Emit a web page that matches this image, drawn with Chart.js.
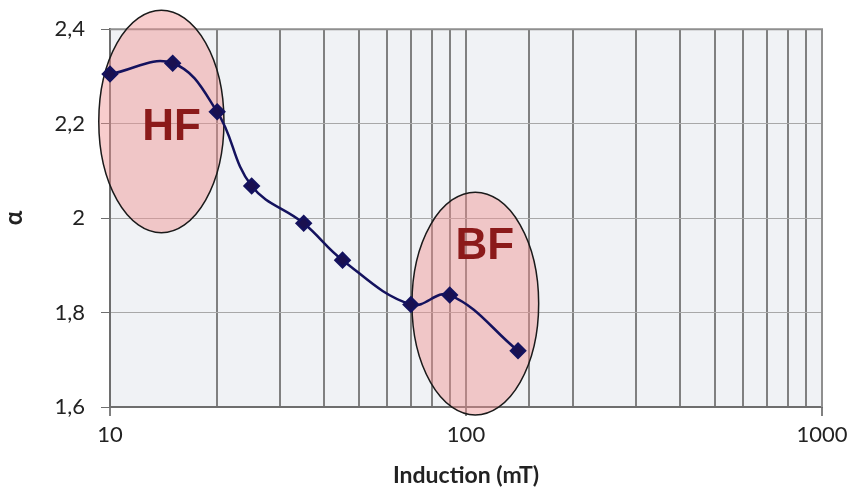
<!DOCTYPE html>
<html lang="fr">
<head>
    <meta charset="UTF-8">
    <title>Alpha vs Induction</title>
    <script src="https://cdn.jsdelivr.net/npm/chart.js"></script>
    <style>
        html, body { margin: 0; padding: 0; background: #fff; }
        #wrap { width: 855px; height: 493px; }
    </style>
</head>
<body>
    <div id="wrap"><canvas id="myChart"></canvas></div>
    <script>
        // data
        const induction = [10, 15, 20, 25, 35, 45, 70, 90, 140];
        const alpha = [2.305, 2.328, 2.225, 2.068, 1.989, 1.911, 1.817, 1.837, 1.719];
        const xLabels = [10, 100, 1000];

        // highlighted zones (in data units): x from/to, y from/to, label position
        const zones = [
            { name: 'HF', x0: 9.3, x1: 20.9, y0: 1.969, y1: 2.44, tx: 14.9, ty: 2.192 },
            { name: 'BF', x0: 70.5, x1: 160, y0: 1.583, y1: 2.055, tx: 113, ty: 1.94 }
        ];

        const zonePlugin = {
            id: 'zones',
            beforeDraw(chart) {
                const { ctx, chartArea: a } = chart;
                ctx.save();
                ctx.fillStyle = '#f0f2f5';
                ctx.fillRect(a.left, a.top, a.right - a.left, a.bottom - a.top);
                ctx.restore();
            },
            beforeDatasetsDraw(chart) {
                const { ctx, scales: { x, y }, chartArea: a } = chart;
                ctx.save();
                // top and right frame
                ctx.strokeStyle = '#8f8f8f';
                ctx.lineWidth = 2;
                ctx.beginPath();
                ctx.moveTo(a.left, a.top);
                ctx.lineTo(a.right, a.top);
                ctx.lineTo(a.right, a.bottom);
                ctx.stroke();
                zones.forEach(z => {
                    const l = x.getPixelForValue(z.x0), r = x.getPixelForValue(z.x1);
                    const t = y.getPixelForValue(z.y1), b = y.getPixelForValue(z.y0);
                    ctx.beginPath();
                    ctx.ellipse((l + r) / 2, (t + b) / 2, (r - l) / 2, (b - t) / 2, 0, 0, Math.PI * 2);
                    ctx.fillStyle = 'rgba(240,145,145,0.45)';
                    ctx.fill();
                    ctx.strokeStyle = '#1a1a1a';
                    ctx.lineWidth = 1.5;
                    ctx.stroke();
                    ctx.fillStyle = '#8b1a1a';
                    ctx.font = 'bold 44px "Liberation Sans", Arial';
                    ctx.textAlign = 'center';
                    ctx.textBaseline = 'middle';
                    ctx.fillText(z.name, x.getPixelForValue(z.tx), y.getPixelForValue(z.ty));
                });
                ctx.restore();
            }
        };

        const ctx = document.getElementById('myChart').getContext('2d');
        const myChart = new Chart(ctx, {
            type: 'line',
            data: {
                datasets: [{
                    data: induction.map((v, i) => ({ x: v, y: alpha[i] })),
                    borderColor: '#14125e',
                    backgroundColor: '#1a1050',
                    borderWidth: 2.5,
                    pointStyle: 'rectRot',
                    pointRadius: 7,
                    pointHoverRadius: 7,
                    tension: 0.4,
                    clip: false,
                    fill: false
                }]
            },
            options: {
                responsive: true,
                maintainAspectRatio: false,
                animation: false,
                layout: { padding: { top: 26, right: 33, left: 0, bottom: 0 } },
                plugins: { legend: { display: false }, tooltip: { enabled: false } },
                scales: {
                    x: {
                        type: 'logarithmic',
                        min: 10,
                        max: 1000,
                        afterFit: s => { s.height = 86; },
                        grid: {
                            color: '#808080',
                            lineWidth: 2,
                            tickLength: 9,
                            tickColor: c => xLabels.includes(c.tick && c.tick.value) ? '#808080' : 'rgba(0,0,0,0)'
                        },
                        border: { color: '#6e6e6e', width: 2 },
                        ticks: {
                            autoSkip: false,
                            maxRotation: 0,
                            padding: 6,
                            color: '#222',
                            font: { family: 'Lato', size: 22 },
                            callback: v => xLabels.includes(v) ? String(v) : ''
                        },
                        title: {
                            display: true,
                            text: 'Induction (mT)',
                            color: '#222',
                            font: { family: 'Lato', size: 23, weight: 'bold' },
                            padding: { top: 0, bottom: 4 }
                        }
                    },
                    y: {
                        min: 1.6,
                        max: 2.4,
                        afterFit: s => { s.width = 110; },
                        grid: { color: '#a8a8a8', lineWidth: 1, tickLength: 9, tickColor: '#6e6e6e' },
                        border: { color: '#6e6e6e', width: 2 },
                        ticks: {
                            stepSize: 0.2,
                            padding: 16,
                            color: '#222',
                            font: { family: 'Lato', size: 22 },
                            callback: v => String(Math.round(v * 10) / 10).replace('.', ',')
                        },
                        title: {
                            display: true,
                            text: 'α',
                            color: '#222',
                            font: { family: 'Lato', size: 24, weight: 'bold' },
                            padding: { top: 0, bottom: 0 }
                        }
                    }
                }
            },
            plugins: [zonePlugin]
        });
    </script>
</body>
</html>
